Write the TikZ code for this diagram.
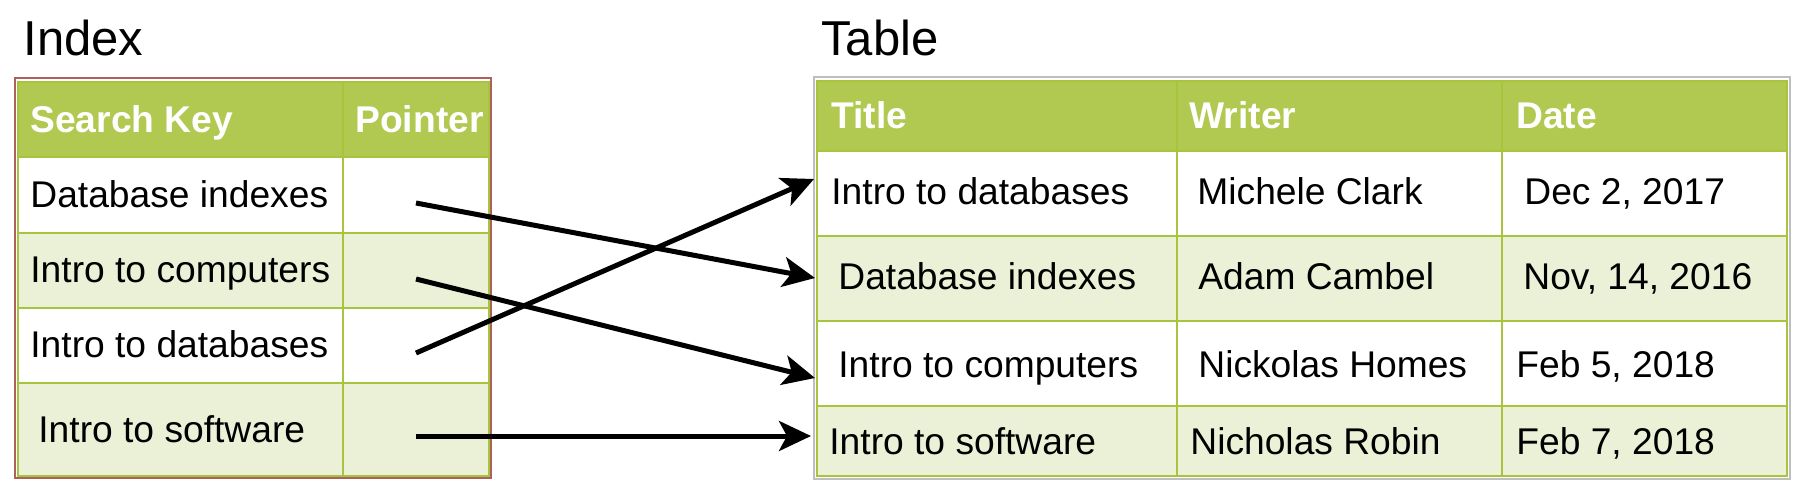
\documentclass[tikz,border=0pt]{standalone}
\usepackage{fontspec}
\setmainfont{Liberation Sans}
\usetikzlibrary{arrows.meta}
\definecolor{hdrgreen}{RGB}{178,201,81}
\definecolor{rowgreen}{RGB}{235,241,215}
\definecolor{gridgreen}{RGB}{168,196,62}
\definecolor{idxborder}{RGB}{176,96,90}
\definecolor{tblborder}{RGB}{190,190,190}
\begin{document}
\begin{tikzpicture}[x=0.5pt,y=-0.5pt,
		txt/.style={anchor=base west,inner sep=0pt,font=\fontsize{18.6}{21}\selectfont},
		hdr/.style={txt,text=white,font=\fontsize{18.6}{21}\selectfont\bfseries},
		ttl/.style={anchor=base west,inner sep=0pt,font=\fontsize{24.5}{29}\selectfont},
		gridline/.style={draw=gridgreen,line width=1.2pt},
		link/.style={line width=2.5pt,-{Stealth[length=16pt,width=15pt,inset=4pt]}}]
			\useasboundingbox (0,0) rectangle (1806,499);
			%			Index
			\fill[hdrgreen] (18,82) rectangle (489,157);
			\fill[white] (18,157) rectangle (489,233);
			\fill[rowgreen] (18,233) rectangle (489,308);
			\fill[white] (18,308) rectangle (489,383);
			\fill[rowgreen] (18,383) rectangle (489,476);
			\draw[gridline] (18,82) rectangle (489,476) (18,157) -- (489,157) (18,233) -- (489,233) (18,308) -- (489,308) (18,383) -- (489,383) (343,82) -- (343,476);
			\draw[idxborder,line width=1pt] (15,78) rectangle (491,478);
			\node[ttl] (idxtitle) at (23,55) {Index};
			\node[hdr] (ikey) at (30,132) {Search Key};
			\node[hdr] (iptr) at (355,132) {Pointer};
			\node[txt] (ik1) at (30,207) {Database indexes};
			\node[txt] (ik2) at (30,282) {Intro to computers};
			\node[txt] (ik3) at (30,357) {Intro to databases};
			\node[txt] (ik4) at (38,442) {Intro to software};
			%			Table
			\fill[hdrgreen] (817,81) rectangle (1787,151);
			\fill[white] (817,151) rectangle (1787,236);
			\fill[rowgreen] (817,236) rectangle (1787,321);
			\fill[white] (817,321) rectangle (1787,406);
			\fill[rowgreen] (817,406) rectangle (1787,476);
			\draw[gridline] (817,81) rectangle (1787,476) (817,151) -- (1787,151) (817,236) -- (1787,236) (817,321) -- (1787,321) (817,406) -- (1787,406) (1177,81) -- (1177,476) (1502,81) -- (1502,476);
			\draw[tblborder,line width=1pt] (814,77) rectangle (1790,479);
			\node[ttl] (tbltitle) at (821,55) {Table};
			\node[hdr] (thtitle) at (831,128) {Title};
			\node[hdr] (thwriter) at (1189,128) {Writer};
			\node[hdr] (thdate) at (1516,128) {Date};
			\node[txt] (tt1) at (831,204) {Intro to databases};
			\node[txt] (tw1) at (1197,204) {Michele Clark};
			\node[txt] (td1) at (1524,204) {Dec 2, 2017};
			\node[txt] (tt2) at (838,289) {Database indexes};
			\node[txt] (tw2) at (1198,289) {Adam Cambel};
			\node[txt] (td2) at (1523,289) {Nov, 14, 2016};
			\node[txt] (tt3) at (838,377) {Intro to computers};
			\node[txt] (tw3) at (1198,377) {Nickolas Homes};
			\node[txt] (td3) at (1516,377) {Feb 5, 2018};
			\node[txt] (tt4) at (829,454) {Intro to software};
			\node[txt] (tw4) at (1190,454) {Nicholas Robin};
			\node[txt] (td4) at (1516,454) {Feb 7, 2018};
			%			Con tro
			\coordinate (ip1) at (416,203);
			\coordinate (ip2) at (416,279);
			\coordinate (ip3) at (416,353);
			\coordinate (ip4) at (416,436);
			\coordinate (tr1) at (814,179);
			\coordinate (tr2) at (815,278);
			\coordinate (tr3) at (815,378);
			\coordinate (tr4) at (811,436);
			\draw[link] (ip1) -- (tr2);
			\draw[link] (ip2) -- (tr3);
			\draw[link] (ip3) -- (tr1);
			\draw[link] (ip4) -- (tr4);
		\end{tikzpicture}
\end{document}
